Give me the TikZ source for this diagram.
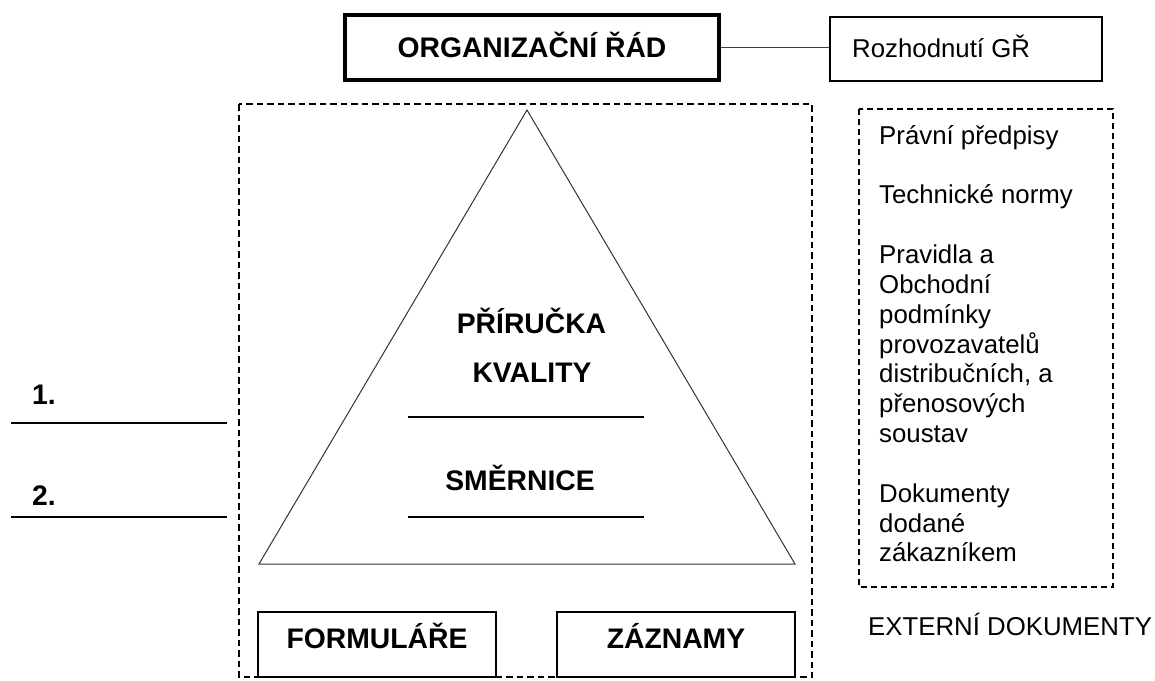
\documentclass[tikz,border=0pt]{standalone}
\usepackage{fontspec}
\setmainfont{Liberation Sans}
\begin{document}
\begin{tikzpicture}[x=1pt,y=-1pt,
  reg/.style={font=\fontsize{25.8}{30}\selectfont, inner sep=0pt, anchor=base west},
  bld/.style={font=\fontsize{28.3}{32}\selectfont\bfseries, inner sep=0pt, anchor=base},
  bldl/.style={bld, anchor=base west},
  boxx/.style={draw, line width=1.3pt, inner sep=0pt},
  dashframe/.style={line width=2.2pt, dash pattern=on 6.5pt off 4pt},
  dashframeb/.style={line width=1.6pt, dash pattern=on 6pt off 4pt},
  rule/.style={line width=1.2pt},
]
\useasboundingbox (0,0) rectangle (1155,680);

% top boxes
\node[draw, line width=3.5pt, minimum width=374pt, minimum height=65pt, inner sep=0pt] (org) at (532,47.5) {};
\node[bld] (orgt) at (532,57) {ORGANIZAČNÍ ŘÁD};
\node[boxx, minimum width=272pt, minimum height=64pt] (roz) at (966,49) {};
\node[reg] (rozt) at (852,57) {Rozhodnutí GŘ};
\draw[line width=1.3pt, black!75] (org.east) -- (org.east -| roz.west);

% big dashed frame
\coordinate (f1) at (239,104);
\coordinate (f2) at (812,677);
\draw[dashframe] (f1) rectangle (f2);

% triangle
\coordinate (apex) at (527,110);
\coordinate (bl) at (259,564);
\coordinate (br) at (795,564);
\draw[line width=1pt, black!80] (apex) -- (bl) -- (br) -- cycle;

% inner texts and rules
\node[bld] (pr) at (531.5,333) {PŘÍRUČKA};
\node[bld] (kv) at (532,382) {KVALITY};
\node[bld] (sm) at (520,490) {SMĚRNICE};
\coordinate (l1a) at (408,417); \coordinate (l1b) at (644,417);
\coordinate (l2a) at (408,517); \coordinate (l2b) at (644,517);
\draw[rule] (l1a) -- (l1b);
\draw[rule] (l2a) -- (l2b);

% left labels
\node[bldl] (n1) at (32,404) {1.};
\node[bldl] (n2) at (32,505) {2.};
\coordinate (m1a) at (11,423); \coordinate (m1b) at (227,423);
\coordinate (m2a) at (11,517); \coordinate (m2b) at (227,517);
\draw[rule] (m1a) -- (m1b);
\draw[rule] (m2a) -- (m2b);

% bottom boxes
\node[boxx, minimum width=238pt, minimum height=65pt] (form) at (377,644.5) {};
\node[bld] (formt) at (377,648) {FORMULÁŘE};
\node[boxx, minimum width=238pt, minimum height=65pt] (zaz) at (676,644.5) {};
\node[bld] (zazt) at (676,648) {ZÁZNAMY};

% external documents
\coordinate (e1) at (859,109);
\coordinate (e2) at (1113,587);
\draw[dashframeb] (e1) rectangle (e2);
\node[reg] (x0)  at (879,144.0) {Právní předpisy};
\node[reg] (x2)  at (879,203.7) {Technické normy};
\node[reg] (x4)  at (879,263.4) {Pravidla a};
\node[reg] (x5)  at (879,293.3) {Obchodní};
\node[reg] (x6)  at (879,323.1) {podmínky};
\node[reg] (x7)  at (879,353.0) {provozavatelů};
\node[reg] (x8)  at (879,382.8) {distribučních, a};
\node[reg] (x9)  at (879,412.7) {přenosových};
\node[reg] (x10) at (879,442.5) {soustav};
\node[reg] (x12) at (879,502.2) {Dokumenty};
\node[reg] (x13) at (879,532.1) {dodané};
\node[reg] (x14) at (879,561.9) {zákazníkem};
\node[reg] (ext) at (868,635) {EXTERNÍ DOKUMENTY};
\end{tikzpicture}
\end{document}
